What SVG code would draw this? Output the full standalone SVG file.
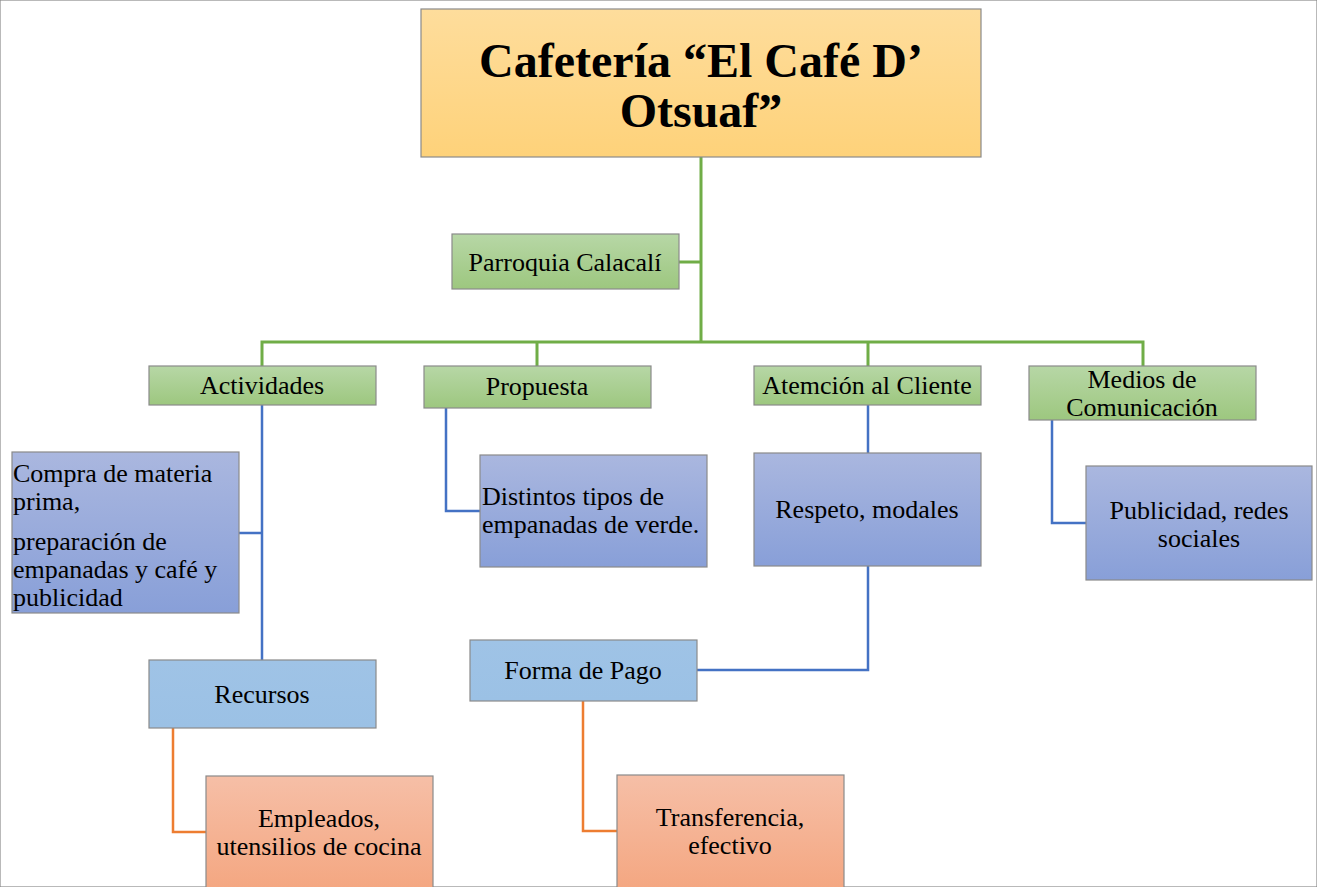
<svg xmlns="http://www.w3.org/2000/svg" width="1317" height="887" viewBox="0 0 1317 887">
  <defs>
    <linearGradient id="gOrange" x1="0" y1="0" x2="0" y2="1">
      <stop offset="0" stop-color="#fedd9c"/>
      <stop offset="1" stop-color="#fed27a"/>
    </linearGradient>
    <linearGradient id="gGreen" x1="0" y1="0" x2="0" y2="1">
      <stop offset="0" stop-color="#b7d7a6"/>
      <stop offset="1" stop-color="#9dc77f"/>
    </linearGradient>
    <linearGradient id="gPurple" x1="0" y1="0" x2="0" y2="1">
      <stop offset="0" stop-color="#aab7df"/>
      <stop offset="1" stop-color="#889fd8"/>
    </linearGradient>
    <linearGradient id="gSky" x1="0" y1="0" x2="0" y2="1">
      <stop offset="0" stop-color="#9fc3e6"/>
      <stop offset="1" stop-color="#9bc1e5"/>
    </linearGradient>
    <linearGradient id="gSalmon" x1="0" y1="0" x2="0" y2="1">
      <stop offset="0" stop-color="#f6bfa7"/>
      <stop offset="1" stop-color="#f4a680"/>
    </linearGradient>
  </defs>
  <style>
    rect { stroke: #8a8a8a; stroke-width: 1.2; }
    text { font-family: "Liberation Serif", "Times New Roman", serif; fill: #000; font-size: 26px; }
    .c { text-anchor: middle; }
    .title { font-size: 48px; font-weight: bold; }
    .lg { fill: none; stroke: #70ad47; stroke-width: 3; }
    .lb { fill: none; stroke: #4472c4; stroke-width: 2.5; }
    .lo { fill: none; stroke: #ed7d31; stroke-width: 2.5; }
  </style>
  <rect width="1317" height="887" fill="#ffffff" stroke="none"/>

  <!-- tree connectors: green trunk, blue second level, orange third level -->
  <g id="connectors">
    <path class="lg" d="M701 157 V342 M679 262 H701 M262 366 V342 H1143 V366 M537 342 V366 M868 342 V366"/>
    <path class="lb" d="M262 405 V660 M239 533 H262"/>
    <path class="lb" d="M446 408 V511 H480"/>
    <path class="lb" d="M868 405 V453 M868 566 V670 H697"/>
    <path class="lb" d="M1052 420 V523 H1086"/>
    <path class="lo" d="M173 728 V832 H206"/>
    <path class="lo" d="M583 701 V831 H617"/>
  </g>

  <g id="title">
    <rect x="421" y="9" width="560" height="148" fill="url(#gOrange)"/>
    <text class="c title" x="701" y="77">Cafetería “El Café D’</text>
    <text class="c title" x="701" y="127">Otsuaf”</text>
  </g>

  <g id="parroquia">
    <rect x="452" y="234" width="227" height="55" fill="url(#gGreen)"/>
    <text class="c" x="565" y="271">Parroquia Calacalí</text>
  </g>

  <g id="actividades">
    <rect x="149" y="366" width="227" height="39" fill="url(#gGreen)"/>
    <text class="c" x="262" y="394">Actividades</text>
  </g>
  <g id="propuesta">
    <rect x="424" y="366" width="227" height="42" fill="url(#gGreen)"/>
    <text class="c" x="537" y="395">Propuesta</text>
  </g>
  <g id="atencion">
    <rect x="754" y="366" width="227" height="39" fill="url(#gGreen)"/>
    <text class="c" x="867" y="394">Atemción al Cliente</text>
  </g>
  <g id="medios">
    <rect x="1029" y="366" width="227" height="54" fill="url(#gGreen)"/>
    <text class="c" x="1142" y="388">Medios de</text>
    <text class="c" x="1142" y="416">Comunicación</text>
  </g>

  <g id="compra">
    <rect x="12" y="452" width="227" height="161" fill="url(#gPurple)"/>
    <text x="13" y="482">Compra de materia</text>
    <text x="13" y="510">prima,</text>
    <text x="13" y="550">preparación de</text>
    <text x="13" y="578">empanadas y café y</text>
    <text x="13" y="606">publicidad</text>
  </g>
  <g id="distintos">
    <rect x="480" y="455" width="227" height="112" fill="url(#gPurple)"/>
    <text x="482" y="505">Distintos tipos de</text>
    <text x="482" y="533">empanadas de verde.</text>
  </g>
  <g id="respeto">
    <rect x="754" y="453" width="227" height="113" fill="url(#gPurple)"/>
    <text class="c" x="867" y="518">Respeto, modales</text>
  </g>
  <g id="publicidad">
    <rect x="1086" y="466" width="226" height="114" fill="url(#gPurple)"/>
    <text class="c" x="1199" y="519">Publicidad, redes</text>
    <text class="c" x="1199" y="547">sociales</text>
  </g>

  <g id="recursos">
    <rect x="149" y="660" width="227" height="68" fill="url(#gSky)"/>
    <text class="c" x="262" y="703">Recursos</text>
  </g>
  <g id="formapago">
    <rect x="470" y="640" width="227" height="61" fill="url(#gSky)"/>
    <text class="c" x="583" y="679">Forma de Pago</text>
  </g>

  <g id="empleados">
    <rect x="206" y="776" width="227" height="116" fill="url(#gSalmon)"/>
    <text class="c" x="319" y="827">Empleados,</text>
    <text class="c" x="319" y="855">utensilios de cocina</text>
  </g>
  <g id="transferencia">
    <rect x="617" y="775" width="227" height="117" fill="url(#gSalmon)"/>
    <text class="c" x="730" y="826">Transferencia,</text>
    <text class="c" x="730" y="854">efectivo</text>
  </g>
</svg>
